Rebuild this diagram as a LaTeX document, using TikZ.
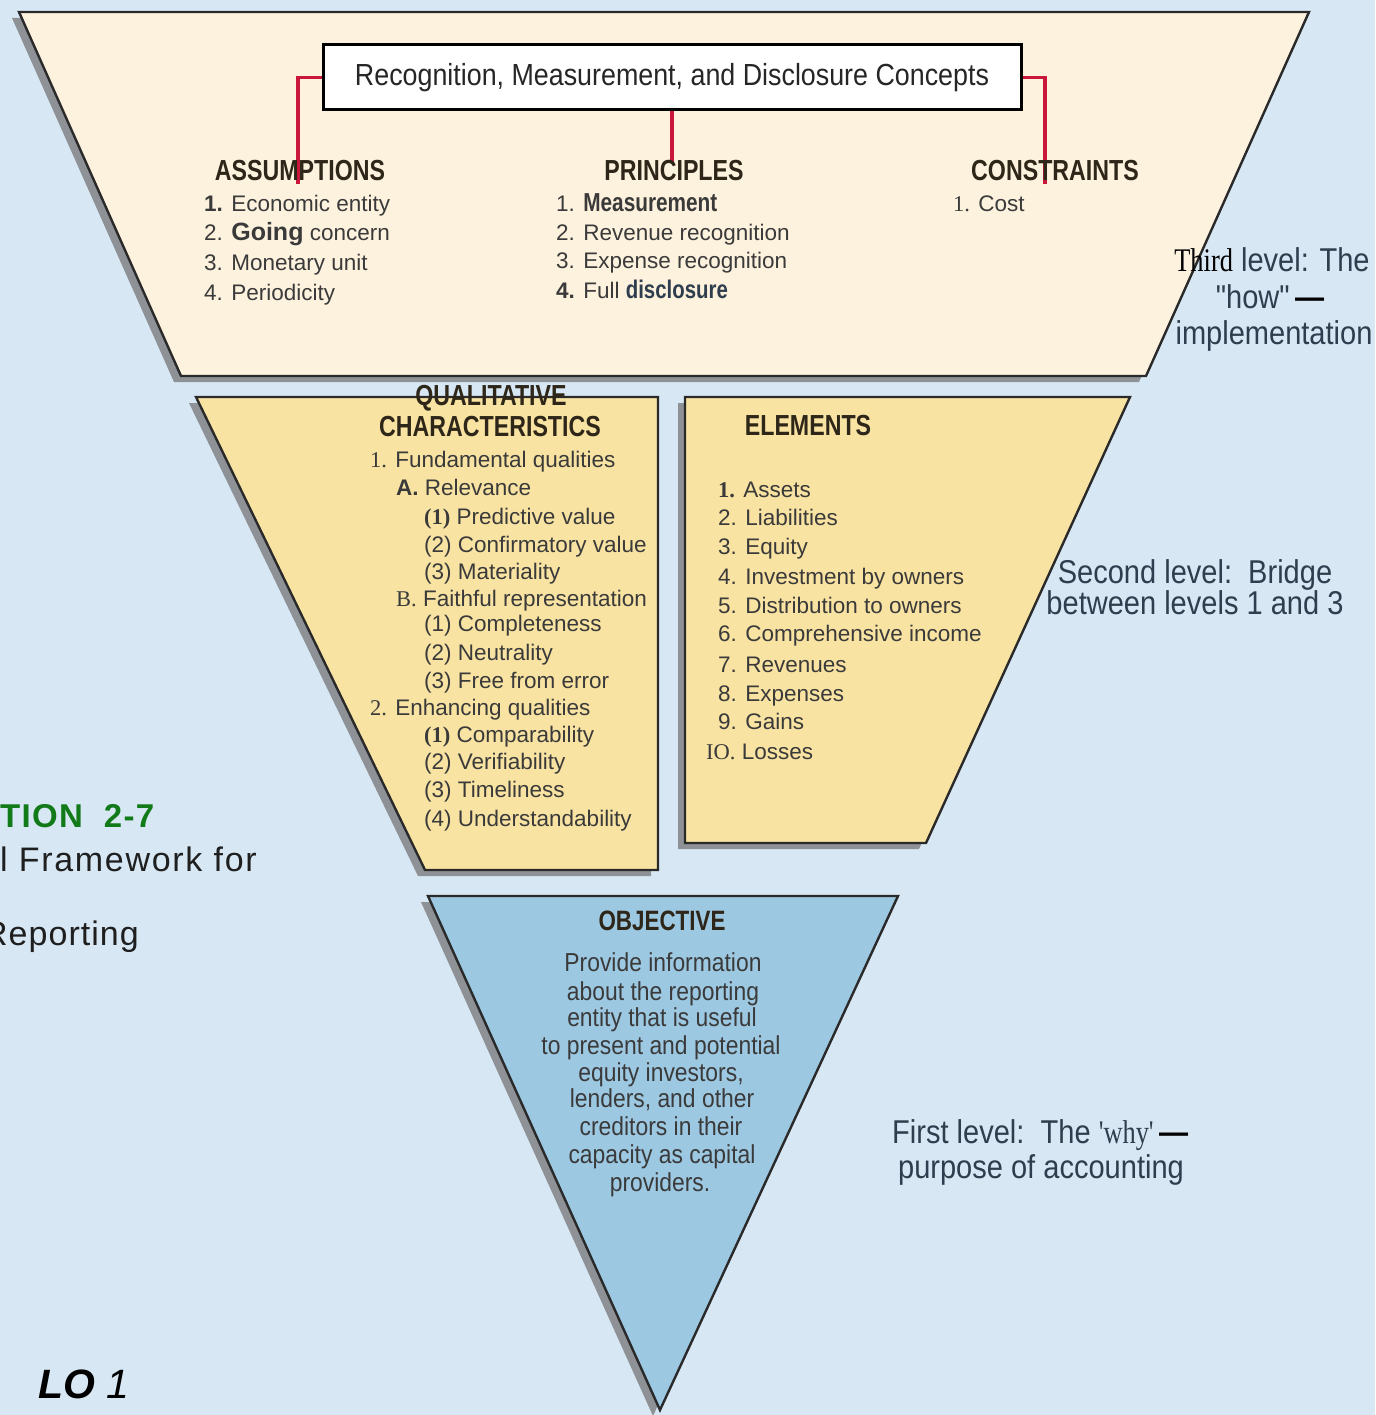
\documentclass[tikz,border=0pt]{standalone}
\usepackage{fontspec}
\setmainfont{Liberation Sans}
\newfontfamily\condf[FakeStretch=0.88,Ligatures=TeXOff]{Liberation Sans}
\newfontfamily\hdrf[FakeStretch=0.8]{Liberation Sans}
\newfontfamily\tms[Ligatures=TeXOff]{Liberation Serif}
\newfontfamily\tmsc[FakeStretch=0.8,Ligatures=TeXOff]{Liberation Serif}
\definecolor{bg}{HTML}{D7E8F4}
\definecolor{cream}{HTML}{FDF2DE}
\definecolor{ylw}{HTML}{F8E3A2}
\definecolor{blu}{HTML}{9DC8E2}
\definecolor{shd}{HTML}{8E9195}
\definecolor{edge}{HTML}{2A2A2A}
\definecolor{txt}{HTML}{3A3A3A}
\definecolor{hdr}{HTML}{2E2618}
\definecolor{lvl}{HTML}{2F3E4E}
\definecolor{grn}{HTML}{137A1A}
\definecolor{lnk}{HTML}{C8173A}
\newcommand{\bcond}[2]{{\hdrf\bfseries\fontsize{#1}{#1}\selectfont #2}}
\tikzset{
  panel/.style={draw=edge, line width=2.4pt, line join=miter},
  shadowpanel/.style={fill=shd},
  item/.style={anchor=base west, inner sep=0pt, text=txt, font=\fontsize{22.5}{27}\selectfont},
  head/.style={anchor=base, inner sep=0pt, text=hdr, font=\hdrf\bfseries\fontsize{29}{33}\selectfont},
  lvltext/.style={anchor=base, inner sep=0pt, text=lvl, font=\condf\fontsize{33}{38}\selectfont},
  objtext/.style={anchor=base, inner sep=0pt, text=txt, font=\condf\fontsize{26}{30}\selectfont},
  link/.style={draw=lnk, line width=3.5pt},
  sidetext/.style={anchor=base west, inner sep=0pt, text=black!88},
}
\begin{document}
\begin{tikzpicture}[x=1pt,y=-1pt]
\path[clip] (0,0) rectangle (1375,1415);
\fill[bg] (0,0) rectangle (1375,1415);

% shadows
\begin{scope}[shift={(-7,6)}]
  \fill[shadowpanel] (19,12) -- (1309,12) -- (1146,376) -- (181,376) -- cycle;
  \fill[shadowpanel] (196,397) -- (658,397) -- (658,870) -- (425,870) -- cycle;
  \fill[shadowpanel] (685,397) -- (1130,397) -- (926,843) -- (685,843) -- cycle;
  \fill[shadowpanel] (428,896) -- (898,896) -- (660,1410) -- cycle;
\end{scope}

% panels
\filldraw[panel, fill=cream] (19,12) -- (1309,12) -- (1146,376) -- (181,376) -- cycle;
\filldraw[panel, fill=ylw] (196,397) -- (658,397) -- (658,870) -- (425,870) -- cycle;
\filldraw[panel, fill=ylw] (685,397) -- (1130,397) -- (926,843) -- (685,843) -- cycle;
\filldraw[panel, fill=blu] (428,896) -- (898,896) -- (660,1410) -- cycle;

% top box
\node[draw=black, line width=3pt, fill=white, minimum width=698pt, minimum height=65pt, inner sep=0pt,
      font=\condf\fontsize{30.5}{34}\selectfont, text=black!85] (rmd) at (672,77.5)
      {Recognition, Measurement, and Disclosure Concepts};

% connectors
\coordinate (aend) at (298,184);
\coordinate (pend) at (672,162);
\coordinate (cend) at (1045,184);
\draw[link] (rmd.west) -| (aend);
\draw[link] (rmd.south) -- (pend);
\draw[link] (rmd.east) -| (cend);

% third level headings
\node[head] (hA) at (300,181) {ASSUMPTIONS};
\node[head] (hP) at (674,181) {PRINCIPLES};
\node[head] (hC) at (1055,181) {CONSTRAINTS};

\node[item] (a1) at (204,212) {\textbf{1.} Economic entity};
\node[item] (a2) at (204,241) {2. {\fontsize{25}{30}\selectfont\bfseries Going} concern};
\node[item] (a3) at (204,270) {3. Monetary unit};
\node[item] (a4) at (204,300) {4. Periodicity};

\node[item] (p1) at (556,212) {1. \bcond{26}{Measurement}};
\node[item] (p2) at (556,241) {2. Revenue recognition};
\node[item] (p3) at (556,269) {3. Expense recognition};
\node[item] (p4) at (556,298) {\textbf{4.} Full \bcond{25.5}{\color{lvl}disclosure}};

\node[item] (c1) at (953,212) {{\tms 1.} Cost};

\node[lvltext] (t3a) at (1272,272) {{\tmsc\color{black} Third} level: The};
\node[lvltext] (t3b) at (1270,308) {"how"\,{\bfseries\color{black}—}};
\node[lvltext] (t3c) at (1274,344) {implementation};

% second level
\node[head] (hQ1) at (491,405) {QUALITATIVE};
\node[head] (hQ2) at (490,436) {CHARACTERISTICS};

\node[item] (q1) at (370,467) {{\tms 1.} Fundamental qualities};
\node[item] (q2) at (396,495) {\textbf{A.} Relevance};
\node[item] (q3) at (424,524) {{\tms\bfseries (1)} Predictive value};
\node[item] (q4) at (424,552) {(2) Confirmatory value};
\node[item] (q5) at (424,579) {(3) Materiality};
\node[item] (q6) at (396,606) {{\tms B.} Faithful representation};
\node[item] (q7) at (424,631) {(1) Completeness};
\node[item] (q8) at (424,660) {(2) Neutrality};
\node[item] (q9) at (424,688) {(3) Free from error};
\node[item] (q10) at (370,715) {{\tms 2.} Enhancing qualities};
\node[item] (q11) at (424,742) {{\tms\bfseries (1)} Comparability};
\node[item] (q12) at (424,769) {(2) Verifiability};
\node[item] (q13) at (424,797) {(3) Timeliness};
\node[item] (q14) at (424,826) {(4) Understandability};

\node[head] (hE) at (808,435) {ELEMENTS};
\node[item] (e1) at (718,497) {{\tms\bfseries 1.} Assets};
\node[item] (e2) at (718,525) {2. Liabilities};
\node[item] (e3) at (718,554) {3. Equity};
\node[item] (e4) at (718,584) {4. Investment by owners};
\node[item] (e5) at (718,613) {5. Distribution to owners};
\node[item] (e6) at (718,641) {6. Comprehensive income};
\node[item] (e7) at (718,672) {7. Revenues};
\node[item] (e8) at (718,701) {8. Expenses};
\node[item] (e9) at (718,729) {9. Gains};
\node[item] (e10) at (706,759) {{\tms IO.} Losses};

\node[lvltext] (t2a) at (1195,583) {Second level:\ \ Bridge};
\node[lvltext] (t2b) at (1195,614) {between levels 1 and 3};

% first level
\node[head, font=\hdrf\bfseries\fontsize{28}{32}\selectfont] (hO) at (662,930) {OBJECTIVE};
\node[objtext] (o1) at (663,971) {Provide information};
\node[objtext] (o2) at (663,1000) {about the reporting};
\node[objtext] (o3) at (662,1026) {entity that is useful};
\node[objtext] (o4) at (661,1054) {to present and potential};
\node[objtext] (o5) at (661,1081) {equity investors,};
\node[objtext] (o6) at (662,1107) {lenders, and other};
\node[objtext] (o7) at (661,1135) {creditors in their};
\node[objtext] (o8) at (662,1163) {capacity as capital};
\node[objtext] (o9) at (660,1191) {providers.};

\node[lvltext, anchor=base west] (t1a) at (892,1143) {First level:\ \ The {\tmsc 'why'}\,{\bfseries\color{black}—}};
\node[lvltext] (t1b) at (1041,1178) {purpose of accounting};

% left captions
\node[sidetext, text=grn, font=\addfontfeature{LetterSpace=4}\bfseries\fontsize{33}{38}\selectfont] (ill) at (0,827) {TION\ \ 2-7};
\node[sidetext, font=\addfontfeature{LetterSpace=5}\fontsize{34}{40}\selectfont] (fw) at (0,871) {l Framework for};
\node[sidetext, font=\addfontfeature{LetterSpace=3}\fontsize{34}{40}\selectfont] (fr) at (-17,945) {Reporting};
\node[sidetext, text=black, font=\fontsize{41}{46}\selectfont] (lo) at (38,1398) {\textbf{\textit{LO}} \textit{1}};
\end{tikzpicture}
\end{document}
